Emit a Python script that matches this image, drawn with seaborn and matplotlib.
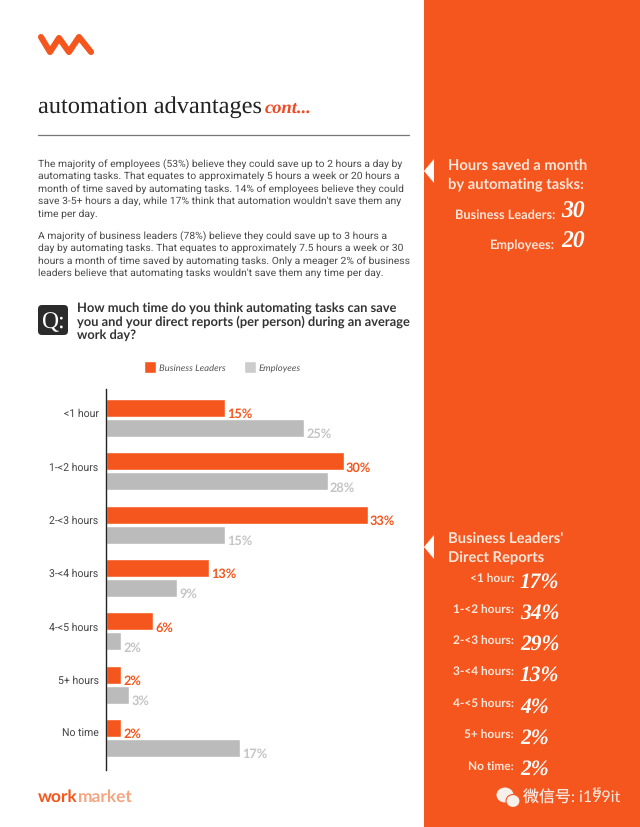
import numpy as np
import pandas as pd
import matplotlib
matplotlib.use("Agg")
import matplotlib.pyplot as plt
from matplotlib.patches import Rectangle, Polygon, FancyBboxPatch, Ellipse
import seaborn as sns

categories = ["<1 hour", "1-<2 hours", "2-<3 hours", "3-<4 hours", "4-<5 hours", "5+ hours", "No time"]
leaders = [15, 30, 33, 13, 6, 2, 2]
employees = [25, 28, 15, 9, 2, 3, 17]
direct_reports = [17, 34, 29, 13, 4, 2, 2]
hours_labels = ["Business Leaders:", "Employees:"]
hours_values = [30, 20]

para_1 = ["The majority of employees (53%) believe they could save up to 2 hours a day by",
          "automating tasks. That equates to approximately 5 hours a week or 20 hours a",
          "month of time saved by automating tasks. 14% of employees believe they could",
          "save 3-5+ hours a day, while 17% think that automation wouldn't save them any",
          "time per day."]
para_2 = ["A majority of business leaders (78%) believe they could save up to 3 hours a",
          "day by automating tasks. That equates to approximately 7.5 hours a week or 30",
          "hours a month of time saved by automating tasks. Only a meager 2% of business",
          "leaders believe that automating tasks wouldn't save them any time per day."]
question = ["How much time do you think automating tasks can save",
            "you and your direct reports (per person) during an average",
            "work day?"]

ORANGE = "#f4561d"
GREY = "#bbbbbb"
PALE = "#fde6da"
HAND = "Liberation Serif"
W, H = 640, 828

sns.set_theme(style="white")
plt.rcParams["font.family"] = ["Lato", "Noto Sans CJK SC", "DejaVu Sans"]
plt.rcParams["text.hinting"] = "no_hinting"

fig = plt.figure(figsize=(W / 100, H / 100), dpi=100)

# page layer in pixel coordinates
page = fig.add_axes([0, 0, 1, 1])
page.set_xlim(0, W)
page.set_ylim(H, 0)
page.axis("off")

fig.add_artist(Rectangle((424 / W, -0.01), 216 / W, 1.02, transform=fig.transFigure, color=ORANGE, lw=0, zorder=-1))
page.plot([41, 50, 59, 69, 79, 91], [38, 53, 39, 53, 38, 53], color=ORANGE, lw=4.4,
          solid_capstyle="round", solid_joinstyle="round")

page.text(38, 113, "automation advantages", family="Liberation Serif", fontsize=17.6, color="#222222")
page.text(265, 113, "cont...", family="Liberation Serif", style="italic", weight="bold", fontsize=13.3, color="#ee4a25")
page.plot([38, 409], [135.5, 135.5], color="#777777", lw=0.9)

for i, line in enumerate(para_1):
    page.text(38, 163.5 + i * 12.6, line, family="Roboto", fontsize=7.5, color="#4a4a4a", va="center")
for i, line in enumerate(para_2):
    page.text(38, 236 + i * 12.5, line, family="Roboto", fontsize=7.5, color="#4a4a4a", va="center")

page.add_patch(FancyBboxPatch((40, 308), 26, 26, boxstyle="round,pad=2,rounding_size=4", color="#2b2b2b", lw=0))
page.text(53, 322, "Q:", family="Liberation Serif", fontsize=17, color="white", ha="center", va="center")
for i, line in enumerate(question):
    page.text(77, 309 + i * 13, line, fontsize=9.25, weight="bold", color="#333333", va="center")

page.text(38, 797, "work", fontsize=12.5, weight="bold", color=ORANGE, va="center")
page.text(78, 797, "market", fontsize=12.5, weight="bold", color="#f3a582", va="center")

# right panel
for y in (172, 548):
    page.add_patch(Polygon([(424, y), (434, y - 12), (434, y + 12)], color="white", lw=0))
page.text(448, 166, "Hours saved a month", fontsize=10.6, weight="bold", color=PALE, va="center")
page.text(448, 184, "by automating tasks:", fontsize=10.6, weight="bold", color=PALE, va="center")
for lab, val, y in zip(hours_labels, hours_values, (215, 245)):
    page.text(555, y, lab, fontsize=9.2, weight="bold", color=PALE, ha="right", va="center")
    page.text(561, y - 3, str(val), family=HAND, style="italic", weight="bold", fontsize=17,
              color="white", va="center")

page.text(448, 539, "Business Leaders'", fontsize=10.6, weight="bold", color=PALE, va="center")
page.text(448, 557, "Direct Reports", fontsize=10.6, weight="bold", color=PALE, va="center")
for i, (cat, val) in enumerate(zip(categories, direct_reports)):
    y = 579 + i * 31.3
    page.text(514, y, cat + ":", fontsize=8.6, weight="bold", color=PALE, ha="right", va="center")
    page.text(520, y + 3, f"{val}%", family=HAND, style="italic", weight="bold", fontsize=15.5,
              color="white", va="center")

# watermark
page.add_patch(Ellipse((505, 796), 17, 15, color="#f6f0ec", lw=0))
page.add_patch(Ellipse((513, 802), 14, 13, color="#f6f0ec", ec=ORANGE, lw=0.8))
page.text(523, 798, "微信号: i199it", fontsize=11.5, color="#f5e9e2", va="center")
page.text(597, 791, "15", fontsize=6.5, weight="bold", color=PALE, ha="center", va="center")

# chart
df = pd.DataFrame({
    "time": categories * 2,
    "share": leaders + employees,
    "group": ["Business Leaders"] * 7 + ["Employees"] * 7,
})
ax = fig.add_axes([105.5 / W, 1 - 771 / H, 294.5 / W, 381 / H])
ax.patch.set_alpha(0)
sns.barplot(data=df, y="time", x="share", hue="group", palette=[ORANGE, GREY], width=0.75, gap=0.1,
            saturation=1, orient="h", ax=ax, legend=True)
ax.set_xlim(0, 37.09)
ax.set_ylim(6.6, -0.544)
ax.set(xlabel="", ylabel="", xticks=[])
ax.set_yticks(np.arange(len(categories)) - 0.11, categories)
ax.tick_params(axis="y", length=0, pad=5, labelsize=7.6, labelcolor="#444444")
for t in ax.get_yticklabels():
    t.set_family("Roboto")
sns.despine(ax=ax, bottom=True)
ax.spines["left"].set_color("#222222")
ax.spines["left"].set_linewidth(1)

for cont, col in zip(ax.containers, (ORANGE, "#c4c4c4")):
    labels = ax.bar_label(cont, fmt="%g%%", padding=2, fontsize=9.2, weight="bold", color=col)
    for t in labels:
        t.xyann = (1.5, -4)

leg = ax.legend(loc="center left", bbox_to_anchor=(144 / W, 1 - 368 / H), bbox_transform=fig.transFigure,
                ncol=2, frameon=False, handlelength=1.25, handleheight=1.7, handletextpad=0.35,
                columnspacing=1.9, borderpad=0, borderaxespad=0, prop={"style": "italic", "size": 6.8})
for t in leg.get_texts():
    t.set_color("#555555")
leg.get_patches()[1].set_facecolor("#cccccc")

fig.savefig("out.png", dpi=100)
